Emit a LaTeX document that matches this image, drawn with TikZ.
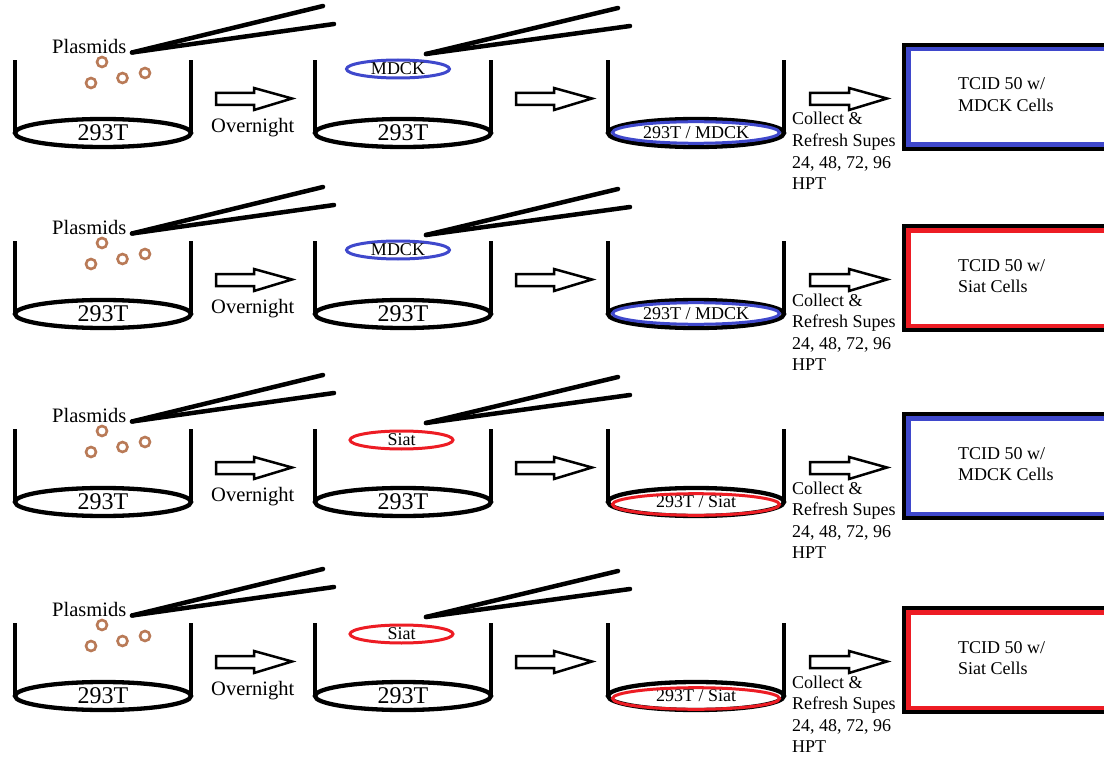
\documentclass[tikz,border=0pt]{standalone}
\usepackage{fontspec}
\setmainfont{Liberation Serif}
\usetikzlibrary{shapes.geometric}
\definecolor{pblue}{RGB}{63,72,204}
\definecolor{pred}{RGB}{237,28,36}
\definecolor{pbrown}{RGB}{185,122,87}
\tikzset{
  wall/.style={line width=4.5pt},
  dishbottom/.style={ellipse, draw, line width=4.3pt, minimum width=176pt, minimum height=28pt, inner sep=0pt, outer sep=0pt, font=\fontsize{24}{28}\selectfont},
  mixbottom/.style={dishbottom, font=\fontsize{18}{21}\selectfont},
  inoc/.style={ellipse, draw, line width=3pt, minimum width=103pt, minimum height=18pt, inner sep=0pt, font=\fontsize{18}{21}\selectfont},
  pipette/.style={line width=4.5pt, line cap=round},
  plasmid/.style={draw=pbrown, line width=2.6pt},
  blockarrow/.style={draw, line width=2.5pt, fill=white},
  lbl/.style={inner sep=0pt, anchor=base west},
  biglbl/.style={lbl, font=\fontsize{20.5}{24}\selectfont},
  smalllbl/.style={lbl, font=\fontsize{18}{21.6}\selectfont},
  boxout/.style={draw=black, line width=4pt},
}
\begin{document}
\begin{tikzpicture}[x=1pt, y=-1pt]
\useasboundingbox (0,0) rectangle (1104,757);
\clip (0,0) rectangle (1104,757);
\fill[white] (0,0) rectangle (1104,757);
\foreach \r/\oy/\cell/\cc/\bc/\btext/\ix/\iy/\my in {
  1/0/MDCK/pblue/pblue/MDCK/398/69/132.5,
  2/181/MDCK/pblue/pred/Siat/398/69/132.5,
  3/369/Siat/pred/pblue/MDCK/401.5/71/135.5,
  4/563/Siat/pred/pred/Siat/401.5/71/135.5}{
  % ---- dish 1 : 293T + plasmids
  \node[dishbottom] (b1-\r) at (103,133+\oy) {293T};
  \draw[wall] (b1-\r.west) -- ++(0,-73);
  \draw[wall] (b1-\r.east) -- ++(0,-73);
  \node[biglbl] (pl-\r) at (52,53.5+\oy) {Plasmids};
  \coordinate (p1-\r) at (132,52.5+\oy);
  \draw[pipette] (p1-\r) -- (323,6+\oy);
  \draw[pipette] (p1-\r) -- (334,24+\oy);
  \draw[plasmid] (102,62+\oy) circle[radius=5pt];
  \draw[plasmid] (91,83+\oy) circle[radius=5pt];
  \draw[plasmid] (122.5,78+\oy) circle[radius=5pt];
  \draw[plasmid] (145,73+\oy) circle[radius=5pt];
  % ---- arrow 1
  \coordinate (a1-\r) at (216,93+\oy);
  \draw[blockarrow] (a1-\r) -- ++(38,0) -- ++(0,-5) -- ++(38,10.5) -- ++(-38,11.5) -- ++(0,-5) -- ++(-38,0) -- cycle;
  \node[biglbl] (ov-\r) at (211,132.5+\oy) {Overnight};
  % ---- dish 2 : 293T + added cells
  \node[dishbottom] (b2-\r) at (403,133+\oy) {293T};
  \draw[wall] (b2-\r.west) -- ++(0,-73);
  \draw[wall] (b2-\r.east) -- ++(0,-73);
  \node[inoc, draw=\cc] (in-\r) at (\ix,\iy+\oy) {\cell};
  \coordinate (p2-\r) at (426,54+\oy);
  \draw[pipette] (p2-\r) -- (618,8+\oy);
  \draw[pipette] (p2-\r) -- (630,26+\oy);
  % ---- arrow 2
  \coordinate (a2-\r) at (516,93+\oy);
  \draw[blockarrow] (a2-\r) -- ++(38,0) -- ++(0,-5) -- ++(38,10.5) -- ++(-38,11.5) -- ++(0,-5) -- ++(-38,0) -- cycle;
  % ---- dish 3 : co-culture
  \node[mixbottom] (b3-\r) at (696,133+\oy) {293T / \cell};
  \draw[\cc, line width=3pt] (696,\my+\oy) ellipse [x radius=83.5pt, y radius=10.8pt];
  \draw[wall] (b3-\r.west) -- ++(0,-73);
  \draw[wall] (b3-\r.east) -- ++(0,-73);
  % ---- arrow 3
  \coordinate (a3-\r) at (810,93+\oy);
  \draw[blockarrow] (a3-\r) -- ++(39,0) -- ++(0,-5) -- ++(38,10.5) -- ++(-38,11.5) -- ++(0,-5) -- ++(-39,0) -- cycle;
  \node[smalllbl] (co-\r) at (792,125+\oy) {\vtop{\hbox{Collect \&}\hbox{Refresh Supes}\hbox{24, 48, 72, 96}\hbox{HPT}}};
  % ---- TCID box
  \draw[boxout] (904,45+\oy) rectangle (1120,149+\oy);
  \draw[draw=\bc, line width=4.5pt] (908.25,49.25+\oy) rectangle (1120,144.75+\oy);
  \node[smalllbl] (tc-\r) at (958,90+\oy) {\vtop{\hbox{TCID 50 w/}\hbox{\btext{} Cells}}};
}
\end{tikzpicture}
\end{document}
